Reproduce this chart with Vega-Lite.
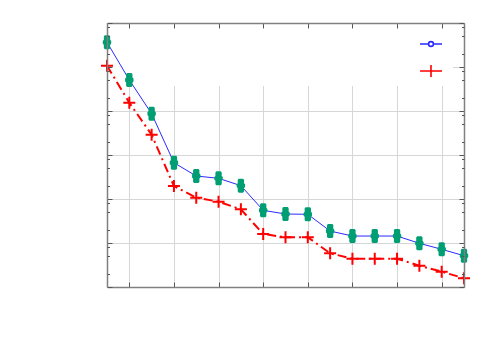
{
  "$schema": "https://vega.github.io/schema/vega-lite/v6.json",
  "width": 357,
  "height": 264,
  "autosize": {"type": "none"},
  "padding": {"left": 107, "top": 23, "right": 36, "bottom": 63},
  "background": "white",
  "config": {"view": {"stroke": null}},
  "datasets": {
    "series": [
      {"x": 0, "value": 364000, "series": "A"},
      {"x": 1, "value": 50700, "series": "A"},
      {"x": 2, "value": 8690, "series": "A"},
      {"x": 3, "value": 668, "series": "A"},
      {"x": 4, "value": 333, "series": "A"},
      {"x": 5, "value": 295, "series": "A"},
      {"x": 6, "value": 201, "series": "A"},
      {"x": 7, "value": 55.3, "series": "A"},
      {"x": 8, "value": 45.6, "series": "A"},
      {"x": 9, "value": 44.9, "series": "A"},
      {"x": 10, "value": 18.7, "series": "A"},
      {"x": 11, "value": 14.4, "series": "A"},
      {"x": 12, "value": 14.4, "series": "A"},
      {"x": 13, "value": 14.4, "series": "A"},
      {"x": 14, "value": 9.84, "series": "A"},
      {"x": 15, "value": 7.19, "series": "A"},
      {"x": 16, "value": 5.14, "series": "A"},
      {"x": 0, "value": 107000, "series": "B"},
      {"x": 1, "value": 15400, "series": "B"},
      {"x": 2, "value": 2890, "series": "B"},
      {"x": 3, "value": 197, "series": "B"},
      {"x": 4, "value": 107, "series": "B"},
      {"x": 5, "value": 86.8, "series": "B"},
      {"x": 6, "value": 58.3, "series": "B"},
      {"x": 7, "value": 16.0, "series": "B"},
      {"x": 8, "value": 13.5, "series": "B"},
      {"x": 9, "value": 13.5, "series": "B"},
      {"x": 10, "value": 5.83, "series": "B"},
      {"x": 11, "value": 4.40, "series": "B"},
      {"x": 12, "value": 4.40, "series": "B"},
      {"x": 13, "value": 4.40, "series": "B"},
      {"x": 14, "value": 3.05, "series": "B"},
      {"x": 15, "value": 2.23, "series": "B"},
      {"x": 16, "value": 1.58, "series": "B"}
    ]
  },
  "data": {"name": "series"},
  "resolve": {"scale": {"x": "shared", "y": "shared"}, "axis": {"x": "independent", "y": "independent"}},
  "layer": [
    {
      "mark": {"type": "rect", "fill": "white", "stroke": null},
      "encoding": {
        "x": {"datum": 0, "type": "quantitative",
          "scale": {"domain": [0, 16], "nice": false, "zero": false},
          "axis": {"orient": "bottom", "values": [1, 3, 5, 7, 9, 11, 13, 15], "grid": true, "gridColor": "#d6d6d6", "gridWidth": 1, "gridOpacity": 1, "ticks": false, "labels": false, "domain": false, "title": null, "zindex": 0}},
        "x2": {"datum": 15.5},
        "y": {"datum": 37000, "type": "quantitative",
          "scale": {"type": "log", "domain": [1, 1000000], "nice": false},
          "axis": {"orient": "left", "values": [10, 100, 1000, 10000, 100000], "grid": true, "gridColor": "#d6d6d6", "gridWidth": 1, "gridOpacity": 1, "ticks": false, "labels": false, "domain": false, "title": null, "zindex": 0}},
        "y2": {"datum": 1000000}
      }
    },
    {
      "transform": [{"filter": "datum.series === 'A'"}],
      "mark": {"type": "line", "stroke": "#2a2aff", "strokeWidth": 1},
      "encoding": {
        "x": {"field": "x", "type": "quantitative",
          "axis": {"orient": "bottom", "values": [1, 3, 5, 7, 9, 11, 13, 15], "grid": false, "labels": false, "ticks": true, "tickSize": -5, "tickColor": "#555555", "domain": true, "domainColor": "#808080", "domainWidth": 1.5, "title": null, "zindex": 1}},
        "y": {"field": "value", "type": "quantitative",
          "axis": {"orient": "left", "values": [1, 10, 100, 1000, 10000, 100000, 1000000], "grid": false, "labels": false, "ticks": true, "tickSize": -5, "tickColor": "#555555", "domain": true, "domainColor": "#808080", "domainWidth": 1.5, "title": null, "zindex": 1}}
      }
    },
    {
      "transform": [{"filter": "datum.series === 'B'"}],
      "mark": {"type": "line", "stroke": "#ff0000", "strokeWidth": 2, "strokeDash": [9, 4, 2, 4]},
      "encoding": {
        "x": {"field": "x", "type": "quantitative",
          "axis": {"orient": "top", "values": [1, 3, 5, 7, 9, 11, 13, 15], "grid": false, "labels": false, "ticks": true, "tickSize": -5, "tickColor": "#555555", "domain": true, "domainColor": "#808080", "domainWidth": 1.5, "title": null, "zindex": 1}},
        "y": {"field": "value", "type": "quantitative",
          "axis": {"orient": "right", "values": [1, 10, 100, 1000, 10000, 100000, 1000000], "grid": false, "labels": false, "ticks": true, "tickSize": -5, "tickColor": "#555555", "domain": true, "domainColor": "#808080", "domainWidth": 1.5, "title": null, "zindex": 1}}
      }
    },
    {
      "transform": [{"filter": "datum.series === 'A'"}],
      "mark": {"type": "point", "filled": true, "fill": "#009e73", "opacity": 1, "size": 196,
        "shape": "M-0.3,-1H0.3L0.45,-0.85V-0.35L0.6,-0.2V0.2L0.45,0.35V0.85L0.3,1H-0.3L-0.45,0.85V0.35L-0.6,0.2V-0.2L-0.45,-0.35V-0.85Z"},
      "encoding": {
        "x": {"field": "x", "type": "quantitative", "axis": null},
        "y": {"field": "value", "type": "quantitative",
          "axis": {"orient": "left", "values": [2, 5, 8, 20, 50, 80, 200, 500, 800, 2000, 5000, 8000, 20000, 50000, 80000, 200000, 500000, 800000], "grid": false, "labels": false, "ticks": true, "tickSize": -2.5, "tickColor": "#555555", "domain": false, "title": null, "zindex": 1}}
      }
    },
    {
      "transform": [{"filter": "datum.series === 'B'"}],
      "mark": {"type": "point", "filled": false, "stroke": "#ff0000", "strokeWidth": 2, "opacity": 1, "size": 144, "shape": "M-1,0H1M0,-1V1"},
      "encoding": {
        "x": {"field": "x", "type": "quantitative", "axis": null},
        "y": {"field": "value", "type": "quantitative",
          "axis": {"orient": "right", "values": [2, 5, 8, 20, 50, 80, 200, 500, 800, 2000, 5000, 8000, 20000, 50000, 80000, 200000, 500000, 800000], "grid": false, "labels": false, "ticks": true, "tickSize": -2.5, "tickColor": "#555555", "domain": false, "title": null, "zindex": 1}}
      }
    },
    {
      "transform": [{"filter": "datum.x < 0"}],
      "mark": {"type": "point", "filled": false, "opacity": 1},
      "encoding": {
        "x": {"field": "x", "type": "quantitative", "axis": null},
        "y": {"field": "value", "type": "quantitative", "axis": null},
        "color": {"field": "series", "type": "nominal",
          "scale": {"domain": ["A", "B"], "range": ["#2a2aff", "#ff0000"]},
          "legend": {"orient": "none", "legendX": 312, "legendY": 9, "title": null, "labelExpr": "''", "symbolSize": 484, "symbolStrokeWidth": 1.6, "rowPadding": 9, "padding": 0, "labelOffset": 0}},
        "shape": {"field": "series", "type": "nominal",
          "scale": {"domain": ["A", "B"], "range": ["M-1,0H-0.22M0.22,0H1M0.22,0A0.22,0.22,0,1,1,-0.22,0A0.22,0.22,0,1,1,0.22,0Z", "M-1,0H1M0,-0.55V0.55"]},
          "legend": {"orient": "none", "legendX": 312, "legendY": 9, "title": null, "labelExpr": "''", "symbolSize": 484, "symbolStrokeWidth": 1.6, "rowPadding": 9, "padding": 0, "labelOffset": 0}}
      }
    }
  ]
}
